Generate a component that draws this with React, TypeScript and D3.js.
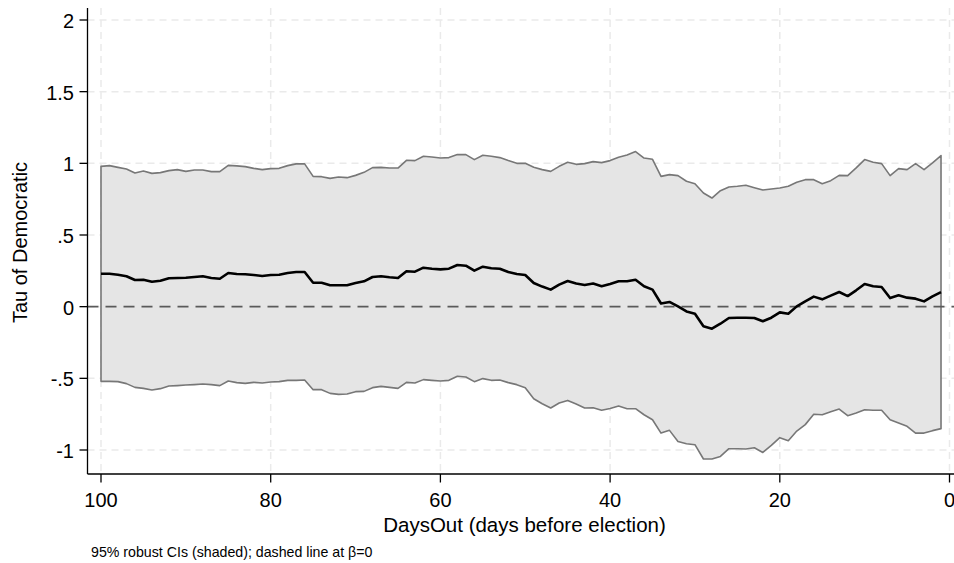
import React from 'react';
import * as d3 from 'd3';

// days before election, 100 down to 1
const days = d3.range(100, 0, -1);

const upper = [
  0.979, 0.984, 0.972, 0.961, 0.933, 0.947, 0.930, 0.935, 0.949, 0.956,
  0.944, 0.954, 0.954, 0.942, 0.942, 0.986, 0.982, 0.977, 0.965, 0.956,
  0.963, 0.965, 0.984, 0.996, 0.996, 0.909, 0.907, 0.895, 0.905, 0.900,
  0.916, 0.937, 0.970, 0.972,
  0.967, 0.967, 1.021, 1.019, 1.049, 1.044, 1.037, 1.040, 1.061, 1.061,
  1.026, 1.056, 1.049, 1.040, 1.019, 1.000, 1.000, 0.972, 0.956, 0.944,
  0.979, 1.007, 0.993, 0.998, 1.012, 1.005, 1.019, 1.042, 1.058, 1.082,
  1.037, 1.028, 0.909,
  0.921, 0.914, 0.875, 0.858, 0.793, 0.758, 0.809, 0.835, 0.840, 0.847,
  0.830, 0.814, 0.821, 0.828, 0.840, 0.868, 0.886, 0.886, 0.858, 0.879,
  0.916, 0.914, 0.968, 1.026, 1.007, 0.998, 0.914, 0.963, 0.956, 0.998,
  0.956, 1.003, 1.054,
];

const estimate = [
  0.230, 0.230, 0.223, 0.212, 0.186, 0.188, 0.174, 0.181, 0.198, 0.200,
  0.202, 0.207, 0.212, 0.200, 0.195, 0.235, 0.228, 0.226, 0.221, 0.214,
  0.221, 0.223, 0.235, 0.242, 0.242, 0.167, 0.167, 0.149, 0.149, 0.149,
  0.165, 0.177, 0.207, 0.212,
  0.205, 0.200, 0.247, 0.244, 0.272, 0.265, 0.260, 0.265, 0.291, 0.286,
  0.251, 0.279, 0.268, 0.265, 0.242, 0.228, 0.221, 0.165, 0.140, 0.119,
  0.154, 0.179, 0.161, 0.151, 0.161, 0.142, 0.158, 0.177, 0.177, 0.188,
  0.142, 0.119, 0.022,
  0.033, 0.002, -0.033, -0.049, -0.137, -0.154, -0.119, -0.079, -0.077, -0.077,
  -0.079, -0.102, -0.077, -0.040, -0.049, 0.002, 0.037, 0.070, 0.051, 0.077,
  0.102, 0.074, 0.114, 0.158, 0.142, 0.137, 0.060, 0.079, 0.063, 0.056,
  0.037, 0.072, 0.102,
];

const lower = [
  -0.521, -0.521, -0.523, -0.537, -0.563, -0.570, -0.581, -0.572, -0.554, -0.551,
  -0.547, -0.544, -0.540, -0.544, -0.551, -0.519, -0.530, -0.535, -0.528, -0.533,
  -0.526, -0.523, -0.514, -0.514, -0.512, -0.579, -0.579, -0.605, -0.612, -0.609,
  -0.593, -0.591, -0.565, -0.556,
  -0.563, -0.570, -0.528, -0.533, -0.509, -0.514, -0.519, -0.514, -0.486, -0.491,
  -0.523, -0.502, -0.514, -0.512, -0.530, -0.544, -0.565, -0.642, -0.677, -0.707,
  -0.672, -0.654, -0.679, -0.707, -0.705, -0.723, -0.710, -0.693, -0.712, -0.712,
  -0.754, -0.789, -0.882,
  -0.863, -0.940, -0.956, -0.963, -1.063, -1.063, -1.045, -0.991, -0.991, -0.993,
  -0.984, -1.017, -0.968, -0.914, -0.935, -0.868, -0.823, -0.751, -0.754, -0.733,
  -0.714, -0.761, -0.742, -0.719, -0.723, -0.723, -0.789, -0.812, -0.835, -0.882,
  -0.882, -0.865, -0.851,
];

const xTicks = [100, 80, 60, 40, 20, 0];
const yTicks = [-1, -0.5, 0, 0.5, 1, 1.5, 2];
const yTickLabels = ['-1', '-.5', '0', '.5', '1', '1.5', '2'];

const FONT = "'Liberation Sans', Arial, sans-serif";

export default function App() {
  const width = 954;
  const height = 563;
  const left = 87.5;
  const right = 954;
  const top = 8;
  const bottom = 474;

  const x = d3.scaleLinear().domain([100, 0]).range([101, 949.5]);
  const y = d3.scaleLinear().domain([-1, 2]).range([450, 20]);

  const rows = days.map((d, i) => ({ d, lo: lower[i], hi: upper[i], est: estimate[i] }));

  const area = d3.area<any>()
    .x(r => x(r.d))
    .y0(r => y(r.lo))
    .y1(r => y(r.hi));

  // outline of the band, closed at both ends
  const outline = d3.line<[number, number]>()(
    [
      ...rows.map(r => [x(r.d), y(r.hi)] as [number, number]),
      ...rows.slice().reverse().map(r => [x(r.d), y(r.lo)] as [number, number]),
    ]
  ) + 'Z';

  const estLine = d3.line<any>()
    .x(r => x(r.d))
    .y(r => y(r.est));

  return (
    <svg
      width={width}
      height={height}
      style={{ position: 'absolute', left: 0, top: 0, background: '#fff' }}
      fontFamily={FONT}
    >
      {/* grid */}
      {yTicks.map(t => (
        <line key={'gy' + t} x1={left} x2={right} y1={y(t)} y2={y(t)}
          stroke="#eaeaea" strokeWidth={1.5} strokeDasharray="7,5" />
      ))}
      {xTicks.map(t => (
        <line key={'gx' + t} x1={x(t)} x2={x(t)} y1={top} y2={bottom}
          stroke="#eaeaea" strokeWidth={1.5} strokeDasharray="7,5" />
      ))}

      {/* CI band */}
      <path d={area(rows) || ''} fill="#e5e5e5" stroke="none" />
      <path d={outline} fill="none" stroke="#777" strokeWidth={1.6} strokeLinejoin="round" />

      {/* reference line at 0 */}
      <line x1={left} x2={right} y1={y(0)} y2={y(0)}
        stroke="#5a5a5a" strokeWidth={1.6} strokeDasharray="11,7" />

      {/* estimate */}
      <path d={estLine(rows) || ''} fill="none" stroke="#000" strokeWidth={2.6} strokeLinejoin="round" />

      {/* axes */}
      <line x1={left} x2={left} y1={top} y2={bottom} stroke="#000" strokeWidth={1.3} />
      <line x1={left} x2={right} y1={bottom} y2={bottom} stroke="#000" strokeWidth={1.3} />

      {yTicks.map((t, i) => (
        <g key={'yt' + t}>
          <line x1={left - 8} x2={left} y1={y(t)} y2={y(t)} stroke="#000" strokeWidth={1.3} />
          <text x={74} y={y(t) + 8} textAnchor="end" fontSize={20} fill="#000">{yTickLabels[i]}</text>
        </g>
      ))}
      {xTicks.map(t => (
        <g key={'xt' + t}>
          <line x1={x(t)} x2={x(t)} y1={bottom} y2={bottom + 8.5} stroke="#000" strokeWidth={1.3} />
          <text x={x(t)} y={506.5} textAnchor="middle" fontSize={20} fill="#000">{t}</text>
        </g>
      ))}

      <text x={524.5} y={531.5} textAnchor="middle" fontSize={20.5} fill="#000">
        DaysOut (days before election)
      </text>
      <text transform={`translate(26.5,242.5) rotate(-90)`} textAnchor="middle" fontSize={20} fill="#000">
        Tau of Democratic
      </text>
      <text x={91} y={556.5} fontSize={14.2} fill="#000">
        95% robust CIs (shaded); dashed line at β=0
      </text>
    </svg>
  );
}
